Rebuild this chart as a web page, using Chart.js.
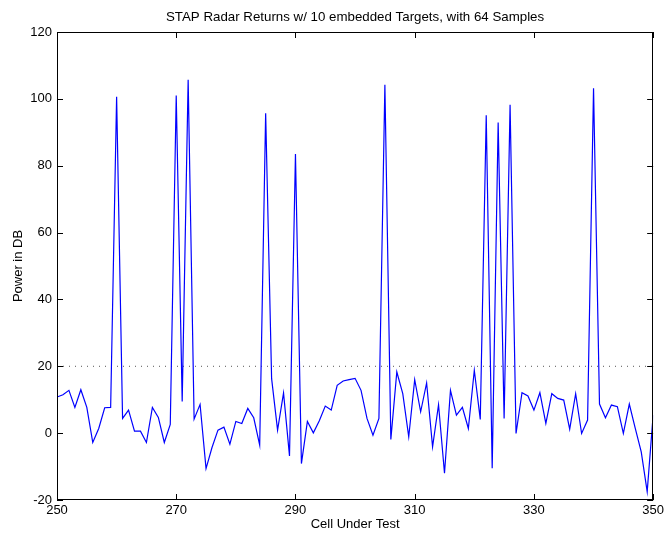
<!DOCTYPE html>
<html>
<head>
<meta charset="utf-8">
<script src="https://cdn.jsdelivr.net/npm/chart.js@4/dist/chart.umd.min.js"></script>
<style>
  html, body { margin: 0; padding: 0; background: #fff; }
  #wrap { width: 667px; height: 538px; }
</style>
</head>
<body>
<div id="wrap"><canvas id="c" width="667" height="538"></canvas></div>
<script>
// Cells under test (range bins) and the measured return power in dB
const cells = [
  250, 251, 252, 253, 254, 255, 256, 257, 258, 259,
  260, 261, 262, 263, 264, 265, 266, 267, 268, 269,
  270, 271, 272, 273, 274, 275, 276, 277, 278, 279,
  280, 281, 282, 283, 284, 285, 286, 287, 288, 289,
  290, 291, 292, 293, 294, 295, 296, 297, 298, 299,
  300, 301, 302, 303, 304, 305, 306, 307, 308, 309,
  310, 311, 312, 313, 314, 315, 316, 317, 318, 319,
  320, 321, 322, 323, 324, 325, 326, 327, 328, 329,
  330, 331, 332, 333, 334, 335, 336, 337, 338, 339,
  340, 341, 342, 343, 344, 345, 346, 347, 348, 349,
  350
];
const powerDb = [
  10.8, 11.5, 12.8, 7.7, 13.0, 7.7, -2.8, 1.4, 7.6, 7.7,
  100.6, 4.4, 6.9, 0.6, 0.6, -2.8, 7.7, 4.7, -2.8, 2.6,
  101.0, 9.5, 105.7, 4.2, 8.6, -10.6, -4.3, 0.9, 1.8, -3.3,
  3.5, 2.9, 7.4, 4.6, -3.6, 95.7, 16.3, 0.9, 12.0, -6.8,
  83.5, -9.1, 3.5, 0.1, 3.7, 8.1, 6.9, 14.3, 15.6, 16.0,
  16.4, 12.8, 4.4, -0.6, 4.4, 104.2, -1.9, 18.3, 11.8, -1.1,
  16.0, 6.4, 15.0, -4.1, 8.5, -12.0, 12.8, 5.4, 7.7, 1.4,
  18.8, 4.1, 95.1, -10.5, 92.9, 4.4, 98.2, -0.1, 12.1, 11.1,
  6.9, 12.1, 2.9, 11.8, 10.4, 9.9, 1.2, 11.8, -0.1, 3.9,
  103.2, 8.7, 4.6, 8.4, 7.9, -0.1, 8.7, 1.4, -5.6, -17.5,
  5.4
];
// Detection threshold (dB) drawn across the full cell range
const thresholdDb = 20;
const xTicks = [250, 270, 290, 310, 330, 350];
const yTicks = [-20, 0, 20, 40, 60, 80, 100, 120];

const titleText = 'STAP Radar Returns w/ 10 embedded Targets, with 64 Samples';
const FONT = '"Liberation Sans", Arial, Helvetica, sans-serif';

// Title, frame and inward-pointing ticks on all four sides
const framePlugin = {
  id: 'frame',
  afterDraw(chart) {
    const { ctx, chartArea: a, scales } = chart;
    ctx.save();
    ctx.strokeStyle = '#000';
    ctx.lineWidth = 1;
    ctx.strokeRect(Math.round(a.left) + 0.5, Math.round(a.top) + 0.5,
                   Math.round(a.right - a.left) - 1, Math.round(a.bottom - a.top) - 1);
    const L = 6;
    ctx.beginPath();
    scales.x.ticks.forEach(t => {
      const px = Math.round(scales.x.getPixelForValue(t.value)) + 0.5;
      ctx.moveTo(px, a.bottom); ctx.lineTo(px, a.bottom - L);
      ctx.moveTo(px, a.top); ctx.lineTo(px, a.top + L);
    });
    scales.y.ticks.forEach(t => {
      const py = Math.round(scales.y.getPixelForValue(t.value)) + 0.5;
      ctx.moveTo(a.left, py); ctx.lineTo(a.left + L, py);
      ctx.moveTo(a.right, py); ctx.lineTo(a.right - L, py);
    });
    ctx.stroke();
    ctx.fillStyle = '#000';
    ctx.font = '13.3px ' + FONT;
    ctx.textAlign = 'center';
    ctx.textBaseline = 'middle';
    ctx.fillText(titleText, (a.left + a.right) / 2, 17);
    ctx.restore();
  }
};

new Chart(document.getElementById('c'), {
  type: 'line',
  data: {
    datasets: [
      {
        label: 'Power',
        data: cells.map((c, i) => ({ x: c, y: powerDb[i] })),
        borderColor: '#0000ff',
        borderWidth: 1.2,
        pointRadius: 0,
        tension: 0,
        fill: false
      },
      {
        label: 'Threshold',
        data: [{ x: cells[0], y: thresholdDb }, { x: cells[cells.length - 1], y: thresholdDb }],
        borderColor: '#555',
        borderWidth: 1,
        borderDash: [1, 5],
        pointRadius: 0,
        fill: false
      }
    ]
  },
  options: {
    responsive: false,
    animation: false,
    layout: { padding: { left: 0, right: 12, top: 32, bottom: 0 } },
    plugins: { legend: { display: false }, tooltip: { enabled: false }, title: { display: false } },
    scales: {
      x: {
        type: 'linear',
        min: 250, max: 350,
        afterBuildTicks: s => { s.ticks = xTicks.map(v => ({ value: v })); },
        afterFit: s => { s.height = 38; },
        grid: { display: false, drawTicks: false },
        border: { display: false },
        ticks: { color: '#000', font: { family: FONT, size: 13 }, padding: 3, maxRotation: 0 },
        title: { display: true, text: 'Cell Under Test', color: '#000', font: { family: FONT, size: 13 }, padding: { top: 0, bottom: 6 } }
      },
      y: {
        type: 'linear',
        min: -20, max: 120,
        afterBuildTicks: s => { s.ticks = yTicks.map(v => ({ value: v })); },
        afterFit: s => { s.width = 57; },
        grid: { display: false, drawTicks: false },
        border: { display: false },
        ticks: { color: '#000', font: { family: FONT, size: 13 }, padding: 5 },
        title: { display: true, text: 'Power in DB', color: '#000', font: { family: FONT, size: 13 }, padding: { top: 11, bottom: 0 } }
      }
    }
  },
  plugins: [framePlugin]
});
</script>
</body>
</html>
